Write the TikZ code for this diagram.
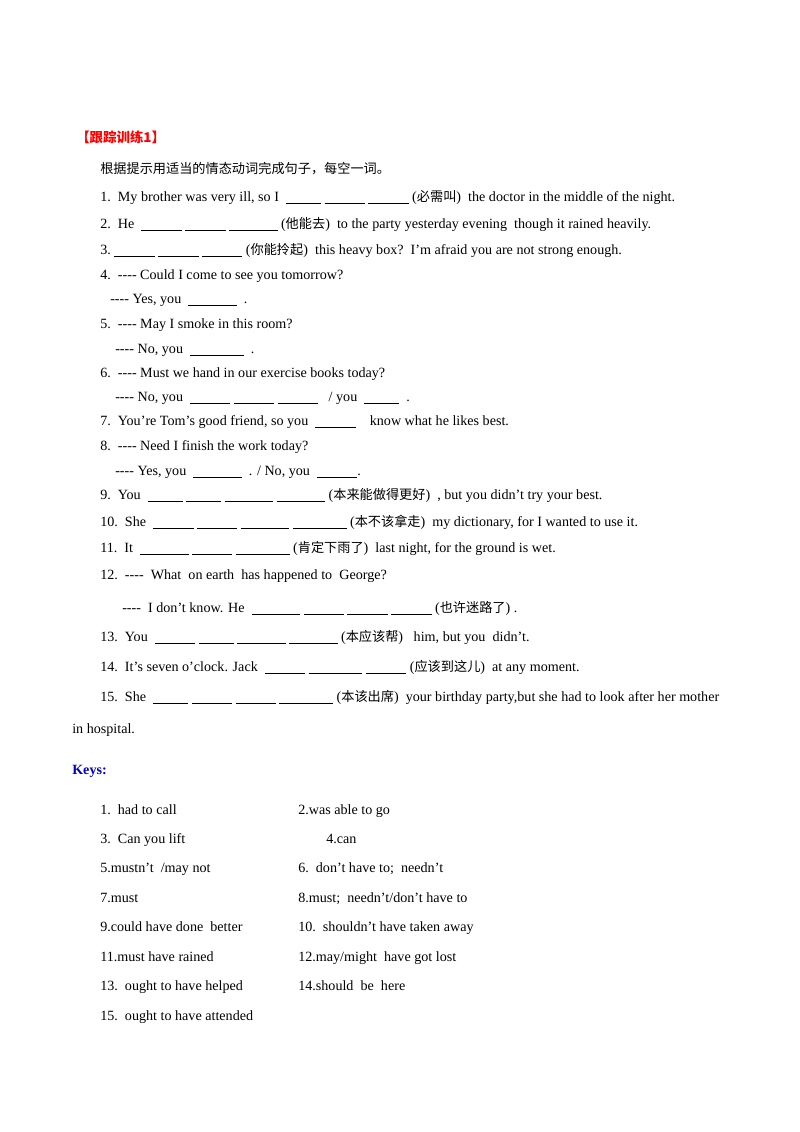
\documentclass[tikz,border=0pt]{standalone}
\usepackage{fontspec}
\setmainfont{Liberation Serif}
\newfontfamily\cjk{Noto Sans CJK SC}
\newcommand{\zh}[1]{{\cjk\fontsize{9.8}{11}\selectfont #1}}
\newcommand{\bk}[1]{\underline{\hspace{#1pt}}}
\newcommand{\dd}{{-}{-}{-}{-}}
\begin{document}
\begin{tikzpicture}[x=0.744pt,y=-0.744pt,
  t/.style={anchor=base west,inner sep=0pt,font=\fontsize{10.5}{12}\selectfont},
  ttl/.style={t,text=red,font=\cjk\bfseries\fontsize{10}{12}\selectfont},
  kh/.style={t,text=blue!80!black,font=\bfseries\fontsize{10.5}{12}\selectfont}]
\useasboundingbox (0,0) rectangle (800,1132);
\node[ttl] (title) at (76,142) {【跟踪训练1】};
\node[t] (ins) at (100,173) {\zh{根据提示用适当的情态动词完成句子，每空一词。}};
\node[t] (q1) at (100,201) {1.\ \ My brother was very ill, so I \ \bk{26} \bk{30} \bk{30} (\zh{必需叫})\ \ the doctor in the middle of the night.};
\node[t] (q2) at (100,228) {2.\ \ He \ \bk{30} \bk{30} \bk{36} (\zh{他能去})\ \ to the party yesterday evening\ \ though it rained heavily.};
\node[t] (q3) at (100,254) {3.\ \bk{30} \bk{30} \bk{30} (\zh{你能拎起})\ \ this heavy box?\ \ I'm afraid you are not strong enough.};
\node[t] (q4) at (100,279) {4.\ \ \dd{} Could I come to see you tomorrow?};
\node[t] (q4b) at (110,303) {\dd{} Yes, you \ \bk{36} \ .};
\node[t] (q5) at (100,328) {5.\ \ \dd{} May I smoke in this room?};
\node[t] (q5b) at (115,353) {\dd{} No, you \ \bk{40} \ .};
\node[t] (q6) at (100,377) {6.\ \ \dd{} Must we hand in our exercise books today?};
\node[t] (q6b) at (115,401) {\dd{} No, you \ \bk{30} \bk{30} \bk{30} \ \ / you \ \bk{26} \ .};
\node[t] (q7) at (100,425) {7.\ \ You’re Tom’s good friend, so you \ \bk{30} \ \ \ know what he likes best.};
\node[t] (q8) at (100,450) {8.\ \ \dd{} Need I finish the work today?};
\node[t] (q8b) at (115,475) {\dd{} Yes, you \ \bk{36} \ . / No, you \ \bk{30}.};
\node[t] (q9) at (100,499) {9.\ \ You \ \bk{26} \bk{26} \bk{36} \bk{36} (\zh{本来能做得更好})\ \ , but you didn’t try your best.};
\node[t] (q10) at (100,526) {10.\ \ She \ \bk{30} \bk{30} \bk{36} \bk{40} (\zh{本不该拿走})\ \ my dictionary, for I wanted to use it.};
\node[t] (q11) at (100,552) {11.\ \ It \ \bk{36} \bk{30} \bk{40} (\zh{肯定下雨了})\ \ last night, for the ground is wet.};
\node[t] (q12) at (100,579) {12.\ \ \dd\ \ What\ \ on earth\ \ has happened to\ \ George?};
\node[t] (q12b) at (122,612) {\dd\ \ I don't know. He \ \bk{36} \bk{30} \bk{30} \bk{30} (\zh{也许迷路了})\ .};
\node[t] (q13) at (100,641) {13.\ \ You \ \bk{30} \bk{26} \bk{36} \bk{36} (\zh{本应该帮})\ \ \ him, but you\ \ didn't.};
\node[t] (q14) at (100,671) {14.\ \ It’s seven o'clock. Jack \ \bk{30} \bk{40} \bk{30} (\zh{应该到这儿})\ \ at any moment.};
\node[t] (q15) at (100,701) {15.\ \ She \ \bk{26} \bk{30} \bk{30} \bk{40} (\zh{本该出席})\ \ your birthday party,but she had to look after her mother};
\node[t] (q15b) at (72,733) {in hospital.};
\node[kh] (keys) at (72,774) {Keys:};
\node[t] (k1) at (100,814) {1.\ \ had to call};
\node[t] (k2) at (298,814) {2.was able to go};
\node[t] (k3) at (100,843) {3.\ \ Can you lift};
\node[t] (k4) at (326,843) {4.can};
\node[t] (k5) at (100,872) {5.mustn’t\ \ /may not};
\node[t] (k6) at (298,872) {6.\ \ don’t have to;\ \ needn’t};
\node[t] (k7) at (100,902) {7.must};
\node[t] (k8) at (298,902) {8.must;\ \ needn’t/don't have to};
\node[t] (k9) at (100,931) {9.could have done\ \ better};
\node[t] (k10) at (298,931) {10.\ \ shouldn't have taken away};
\node[t] (k11) at (100,961) {11.must have rained};
\node[t] (k12) at (298,961) {12.may/might\ \ have got lost};
\node[t] (k13) at (100,990) {13.\ \ ought to have helped};
\node[t] (k14) at (298,990) {14.should\ \ be\ \ here};
\node[t] (k15) at (100,1020) {15.\ \ ought to have attended};
\end{tikzpicture}
\end{document}
